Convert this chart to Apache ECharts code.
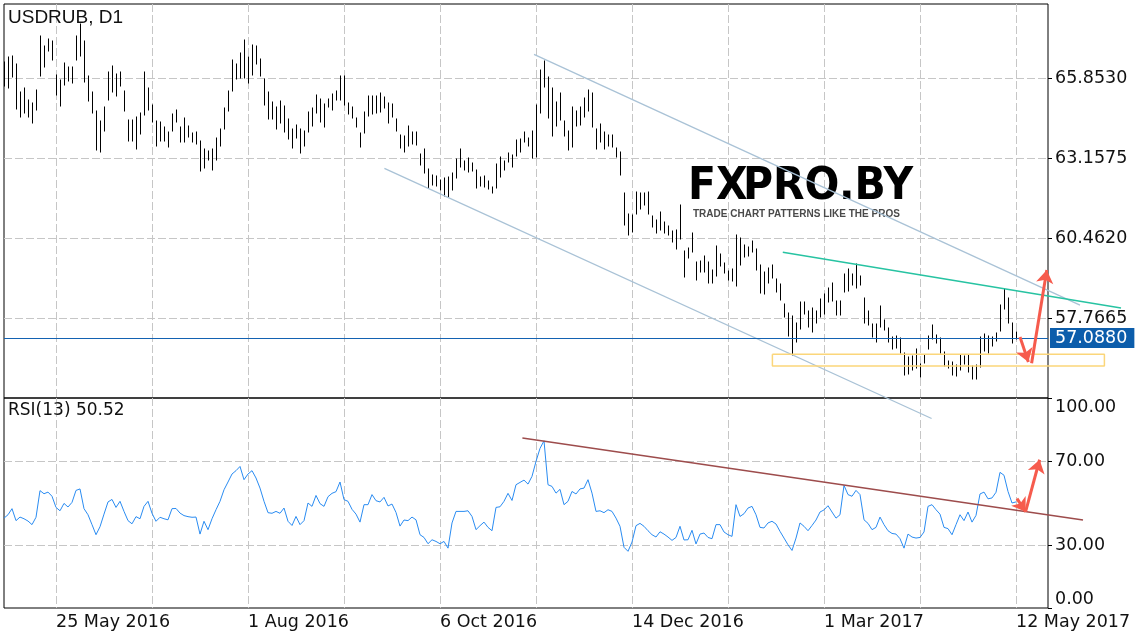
<!DOCTYPE html>
<html>
<head>
<meta charset="utf-8">
<script src="https://cdn.jsdelivr.net/npm/echarts@6/dist/echarts.min.js"></script>
<style>html,body{margin:0;padding:0;background:#fff}#c{width:1136px;height:640px}</style>
</head>
<body>
<div id="c"></div>
<script>
// ---------- calendar (trading days, Moscow exchange holidays skipped) ----------
const firstDay = '2016-05-05';
const slotCount = 262; // 254 daily bars + 8 empty future slots (chart shift)
const holidays = ['2016-05-09','2016-11-04','2017-01-02','2017-01-03','2017-01-04','2017-01-05','2017-01-06',
  '2017-02-23','2017-02-24','2017-03-08','2017-05-01','2017-05-08','2017-05-09'];
const monthNames = ['Jan','Feb','Mar','Apr','May','Jun','Jul','Aug','Sep','Oct','Nov','Dec'];
const categories = [];
(function () {
  const d = new Date(firstDay + 'T00:00:00Z');
  while (categories.length < slotCount) {
    const s = d.toISOString().slice(0, 10), w = d.getUTCDay();
    if (w !== 0 && w !== 6 && holidays.indexOf(s) < 0) categories.push(s);
    d.setUTCDate(d.getUTCDate() + 1);
  }
})();

// ---------- USDRUB D1 bar highs / lows ----------
const barHigh = [
  66.40,66.55,66.58,66.33,65.37,65.52,65.11,65.00,65.45,67.26,
  66.92,67.17,67.11,65.95,65.80,66.36,66.21,66.21,67.26,67.67,
  67.09,65.91,65.37,64.73,64.42,64.89,66.04,66.25,65.99,66.04,
  65.43,64.44,64.44,64.53,64.67,66.04,65.52,64.95,64.39,64.36,
  64.19,64.02,64.64,64.78,64.19,64.51,64.25,64.00,64.02,63.72,
  63.46,63.40,63.46,63.83,64.14,64.83,65.40,66.47,66.33,66.70,
  67.13,66.57,66.98,66.94,66.48,65.82,65.37,65.06,64.89,65.09,
  64.91,64.46,64.13,64.27,64.12,64.08,64.70,64.85,65.28,65.13,
  64.97,65.15,65.30,65.42,65.92,65.92,65.02,64.87,64.52,64.01,
  64.70,65.26,65.25,65.25,65.34,65.22,65.00,64.98,64.47,63.93,
  63.91,64.24,64.02,64.02,63.29,63.45,62.79,62.58,62.56,62.42,
  62.47,62.51,62.64,63.12,63.45,63.07,63.15,62.98,62.75,62.51,
  62.56,62.39,62.17,62.94,63.18,63.06,63.34,63.26,63.76,63.79,
  64.05,63.82,64.07,64.94,66.12,66.43,65.90,65.53,65.06,65.34,
  64.40,64.07,64.89,64.75,64.89,65.17,65.45,65.36,64.13,64.30,
  64.02,63.93,63.93,63.51,63.35,61.99,61.27,61.24,62.02,61.99,
  61.97,62.02,61.21,61.07,61.33,61.01,60.87,60.71,60.73,61.57,
  60.03,60.11,60.62,59.66,59.70,59.87,59.66,59.38,60.19,59.92,
  59.61,59.35,59.41,60.56,60.45,60.23,60.17,60.37,60.08,59.55,
  59.30,59.44,59.55,59.08,58.90,58.23,57.95,57.83,57.59,58.29,
  58.29,58.01,58.09,58.01,58.41,58.56,58.77,58.96,58.35,58.35,
  59.25,59.41,59.24,59.57,59.18,58.43,58.01,57.55,57.55,58.17,
  57.70,57.42,57.14,57.16,57.10,56.60,56.46,56.49,56.71,56.20,
  56.52,57.16,57.53,57.19,57.10,56.63,56.32,56.29,56.18,56.52,
  56.50,56.52,56.15,56.18,57.11,57.23,57.16,57.14,57.27,58.20,
  58.74,58.43,57.59,57.28
];
const barLow = [
  65.60,65.52,65.88,64.81,64.53,64.67,64.55,64.33,64.79,65.93,
  66.21,66.75,66.47,65.29,64.92,65.63,65.76,65.67,66.47,66.58,
  65.71,65.07,64.67,63.44,63.35,64.08,65.12,65.37,65.24,65.60,
  64.73,63.72,63.72,63.46,63.97,64.62,64.79,64.36,63.57,63.74,
  63.72,63.52,64.08,64.36,63.69,63.69,63.85,63.69,63.63,62.71,
  62.82,63.10,62.76,63.10,63.55,64.14,64.75,65.43,65.82,65.85,
  65.85,65.69,65.97,66.33,65.92,64.94,64.46,64.46,64.12,64.33,
  64.05,63.79,63.51,63.82,63.34,63.56,64.05,64.25,64.66,64.38,
  64.21,64.89,64.78,65.11,65.11,64.94,64.64,64.49,64.21,63.54,
  63.99,64.58,64.64,64.69,64.72,64.83,64.35,64.55,64.08,63.48,
  63.35,63.56,63.63,63.60,62.92,62.64,62.14,62.25,62.21,62.08,
  61.89,61.83,62.08,62.47,62.84,62.75,62.70,62.73,62.16,62.23,
  62.19,62.11,61.97,62.16,62.53,62.75,63.03,62.87,63.23,63.37,
  63.71,63.56,63.17,63.20,64.69,65.56,64.49,63.90,64.24,64.44,
  63.90,63.43,63.54,64.24,64.27,64.55,64.75,64.21,63.46,63.71,
  63.46,63.57,63.54,63.20,62.58,60.90,60.56,60.68,61.27,61.43,
  61.57,61.27,60.84,60.64,60.73,60.62,60.56,60.34,60.08,60.42,
  59.16,59.78,60.00,59.05,59.33,59.33,58.93,58.96,59.18,59.52,
  59.27,59.05,59.02,58.86,59.55,59.81,59.86,60.00,59.38,58.62,
  58.56,58.96,59.10,58.65,58.37,57.81,57.17,56.52,56.95,57.40,
  57.90,57.45,57.28,57.61,57.79,57.90,58.29,58.35,57.87,57.87,
  58.65,58.68,58.88,58.77,58.88,57.59,57.53,57.11,56.97,57.45,
  57.36,56.95,56.71,56.74,56.58,55.85,55.87,56.01,56.09,55.77,
  56.26,56.71,57.05,56.91,56.60,56.15,56.07,55.85,55.81,56.01,
  56.22,55.96,55.71,55.70,56.13,56.65,56.58,56.82,57.00,57.34,
  58.06,57.61,56.93,57.05
];
const currentPrice = 57.0880;

// ---------- RSI(13) ----------
const rsiValues = [
  42.8,44.4,47.3,41.6,43.3,42.5,41.4,39.7,43.2,55.9,
  54.4,55.2,53.2,47.9,46.3,49.8,48.1,50.3,56.0,56.7,
  47.3,44.4,39.7,34.9,38.7,44.7,50.5,51.7,47.9,50.8,
  46.0,41.6,40.1,43.5,42.5,48.4,50.8,45.1,41.3,43.2,
  42.5,42.0,47.3,47.4,45.2,44.0,43.5,43.2,43.3,35.2,
  41.3,37.3,42.5,46.8,50.8,56.3,60.0,63.8,65.4,67.4,
  61.1,63.8,65.4,61.9,57.1,50.8,45.4,45.1,46.0,45.1,
  47.6,41.3,39.3,43.6,39.7,41.6,50.0,48.4,53.6,49.7,
  48.4,53.0,54.6,55.4,60.0,51.6,50.8,47.0,44.7,40.9,
  49.2,49.2,54.0,51.1,50.5,52.7,48.6,49.5,45.5,39.0,
  41.9,41.6,43.3,42.0,34.9,33.6,30.6,32.5,31.7,30.6,
  31.7,28.5,40.5,46.0,46.0,46.0,46.3,43.6,37.3,39.2,
  40.9,38.4,36.8,47.9,48.2,50.8,54.6,51.2,58.7,59.8,
  60.9,59.0,62.7,69.8,76.0,79.6,58.7,57.9,54.7,56.5,
  49.2,50.8,55.5,54.3,56.7,57.1,61.1,54.7,46.0,46.3,
  45.4,46.8,46.0,42.8,38.9,28.9,27.0,31.4,39.2,40.3,
  38.9,36.8,34.9,33.8,36.3,35.2,33.8,32.2,33.6,38.9,
  32.4,32.5,37.0,30.5,35.2,35.7,33.6,33.0,39.7,39.7,
  36.2,34.9,34.1,49.2,43.6,44.9,47.6,48.4,44.4,38.4,
  38.1,40.5,41.3,40.0,36.5,33.3,30.1,27.4,33.3,40.5,
  38.9,36.8,39.3,41.9,45.7,46.7,48.7,45.7,42.8,44.4,
  58.4,54.0,53.2,56.0,54.0,42.0,40.3,37.3,38.4,43.3,
  39.7,36.8,35.5,35.2,33.0,28.5,35.2,33.8,33.3,33.6,
  36.2,48.4,49.2,46.8,44.7,38.4,37.8,34.9,39.7,44.4,
  41.6,45.7,40.9,44.1,54.3,55.2,52.0,52.4,55.1,64.6,
  63.2,55.5,50.0,50.52
];

// ---------- axis ticks ----------
const priceTicks = [57.7665, 60.4620, 63.1575, 65.8530];
const priceMin = 55.0699, priceMax = 68.3466;
const rsiTicks = [0, 30, 70, 100];
const gridStep = 24, labelStep = 48, firstGridIndex = 13;
const overlaySlots = 283; // annotation layer reaches the right edge of the picture

// ---------- drawn annotations: [bar index, value] ----------
const upperChannel = [[132.5, 66.652], [269, 58.197]];
const lowerChannel = [[95.1, 62.810], [231.9, 54.379]];
const resistanceLine = [[194.7, 59.980], [279.25, 58.103]];
const supportBox = [[192.1, 56.542], [275.1, 56.542], [275.1, 56.148], [192.1, 56.148], [192.1, 56.542]];
const priceArrowDown = [[254, 57.125], [256.1, 56.283]];
const priceArrowUp = [[256.9, 56.239], [260.7, 59.383]];
const rsiTrendLine = [[129.6, 80.95], [269.75, 41.9]];
const rsiArrowDown = [[253.25, 52.05], [255.4, 45.86]];
const rsiArrowUp = [[255.4, 45.86], [258.9, 70.6]];

// ---------- chart ----------
const chart = echarts.init(document.getElementById('c'), null, { renderer: 'canvas' });
const axisFont = 'DejaVu Sans';
const dash = { color: '#c6c6c6', width: 1, type: [8, 3] };
const fmtDate = v => { const p = v.split('-'); return (+p[2]) + ' ' + monthNames[+p[1] - 1] + ' ' + p[0]; };
const arrowMark = a => [{ coord: a[0] }, { coord: a[1] }];

const barData = barHigh.map((h, i) => [i, barLow[i], h]);

const arrowStyle = { symbol: ['none', 'arrow'], symbolSize: 13, silent: true, animation: false,
  lineStyle: { color: '#f65b4d', width: 3, type: 'solid' }, label: { show: false } };

const option = {
  animation: false,
  backgroundColor: '#fff',
  title: [
    { text: 'USDRUB, D1', left: 8, top: 8, padding: 0,
      textStyle: { fontFamily: 'Liberation Sans', fontSize: 19, fontWeight: 'normal', color: '#111' } },
    { text: 'RSI(13) 50.52', left: 8, top: 402, padding: 0,
      textStyle: { fontFamily: axisFont, fontSize: 17, fontWeight: 'normal', color: '#111' } }
  ],
  grid: [
    { left: 4, top: 4, width: 1044, height: 394, show: true, borderColor: '#000', borderWidth: 1, backgroundColor: 'transparent' },
    { left: 4, top: 398, width: 1044, height: 210, show: true, borderColor: '#000', borderWidth: 1, backgroundColor: 'transparent' },
    { left: 4, top: 4, width: 1132, height: 394, show: false },
    { left: 4, top: 398, width: 1132, height: 210, show: false }
  ],
  xAxis: [
    { type: 'category', gridIndex: 0, data: categories, boundaryGap: false,
      axisLine: { show: false }, axisTick: { show: false }, axisLabel: { show: false },
      splitLine: { show: true, interval: i => i >= firstGridIndex && (i - firstGridIndex) % gridStep === 0, lineStyle: dash } },
    { type: 'category', gridIndex: 1, data: categories, boundaryGap: false,
      axisLine: { show: false }, axisTick: { show: false },
      axisLabel: { show: true, interval: i => i >= firstGridIndex && (i - firstGridIndex) % labelStep === 0,
        formatter: fmtDate, align: 'left', margin: 5, color: '#111', fontFamily: axisFont, fontSize: 17.5 },
      splitLine: { show: true, interval: i => i >= firstGridIndex && (i - firstGridIndex) % gridStep === 0, lineStyle: dash } },
    { type: 'value', gridIndex: 2, min: 0, max: overlaySlots, show: false },
    { type: 'value', gridIndex: 3, min: 0, max: overlaySlots, show: false }
  ],
  yAxis: [
    { type: 'value', gridIndex: 0, position: 'right', min: priceMin, max: priceMax, scale: true,
      axisLine: { show: false },
      axisTick: { show: true, customValues: priceTicks, length: 4, lineStyle: { color: '#000' } },
      axisLabel: { customValues: priceTicks, formatter: v => v.toFixed(4), margin: 7, color: '#111', fontFamily: axisFont, fontSize: 17.5 },
      splitLine: { show: true, lineStyle: dash } },
    { type: 'value', gridIndex: 1, position: 'right', min: 0, max: 100,
      axisLine: { show: false },
      axisTick: { show: true, customValues: rsiTicks, length: 4, lineStyle: { color: '#000' } },
      axisLabel: { customValues: rsiTicks, formatter: v => v.toFixed(2), margin: 7, color: '#111', fontFamily: axisFont, fontSize: 17.5,
        verticalAlignMinLabel: 'bottom', verticalAlignMaxLabel: 'top' },
      splitLine: { show: true, showMinLine: false, showMaxLine: false, lineStyle: dash } },
    { type: 'value', gridIndex: 2, min: priceMin, max: priceMax, scale: true, show: false },
    { type: 'value', gridIndex: 3, min: 0, max: 100, show: false }
  ],
  series: [
    { type: 'custom', name: 'USDRUB', xAxisIndex: 0, yAxisIndex: 0, data: barData,
      encode: { x: 0, y: [1, 2] }, silent: true, z: 3,
      renderItem: function (params, api) {
        const i = api.value(0);
        const lo = api.coord([i, api.value(1)]);
        const hi = api.coord([i, api.value(2)]);
        const x = Math.round(lo[0]) + 0.5;
        return { type: 'line', shape: { x1: x, y1: Math.round(lo[1]) + 0.5, x2: x, y2: Math.round(hi[1]) - 0.5 },
          style: { stroke: '#000', lineWidth: 1 } };
      },
      markLine: { silent: true, symbol: 'none', animation: false,
        data: [{ yAxis: currentPrice,
          lineStyle: { color: '#1362b2', width: 1, type: 'solid' },
          label: { show: true, position: 'end', distance: 2, formatter: currentPrice.toFixed(4),
            backgroundColor: '#0c5dab', color: '#fff', padding: [1, 7, 1, 5], lineHeight: 18,
            fontFamily: axisFont, fontSize: 17.5 } }] } },
    { type: 'line', name: 'RSI', xAxisIndex: 1, yAxisIndex: 1, data: rsiValues, symbol: 'none', silent: true, z: 3,
      lineStyle: { color: '#2a8cf2', width: 1 } },
    { type: 'line', name: 'upper channel', xAxisIndex: 2, yAxisIndex: 2, data: upperChannel, symbol: 'none', clip: false,
      silent: true, z: 4, lineStyle: { color: '#a9c2d6', width: 1.3 } },
    { type: 'line', name: 'lower channel', xAxisIndex: 2, yAxisIndex: 2, data: lowerChannel, symbol: 'none', clip: false,
      silent: true, z: 4, lineStyle: { color: '#a9c2d6', width: 1.3 } },
    { type: 'line', name: 'resistance', xAxisIndex: 2, yAxisIndex: 2, data: resistanceLine, symbol: 'none', clip: false,
      silent: true, z: 4, lineStyle: { color: '#27c3a2', width: 1.5 } },
    { type: 'line', name: 'support zone', xAxisIndex: 2, yAxisIndex: 2, data: supportBox, symbol: 'none', clip: false,
      silent: true, z: 4, lineStyle: { color: '#fbd67a', width: 1.5 },
      markLine: Object.assign({ data: [arrowMark(priceArrowDown), arrowMark(priceArrowUp)] }, arrowStyle) },
    { type: 'line', name: 'RSI trend', xAxisIndex: 3, yAxisIndex: 3, data: rsiTrendLine, symbol: 'none', clip: false,
      silent: true, z: 4, lineStyle: { color: '#9d4c4c', width: 1.5 },
      markLine: Object.assign({ data: [arrowMark(rsiArrowDown), arrowMark(rsiArrowUp)] }, arrowStyle) }
  ],
  graphic: [
    { type: 'group', x: 688, y: 165, silent: true, z: 1, children: [
      { type: 'text', x: 0, y: 0, z: 1, scaleY: 1.08, style: { text: 'FX', font: 'bold 41px "DejaVu Sans"', verticalAlign: 'top',
        fill: new echarts.graphic.LinearGradient(0, 0, 0, 1, [{ offset: 0, color: '#111' }, { offset: 0.5, color: '#2b2b2b' }, { offset: 1, color: '#a0a0a0' }]) } },
      { type: 'text', x: 55, y: 0, z: 1, scaleY: 1.08, style: { text: 'PRO', font: 'bold 41px "DejaVu Sans"', verticalAlign: 'top',
        fill: new echarts.graphic.LinearGradient(0, 0, 0, 1, [{ offset: 0, color: '#e0161b' }, { offset: 0.55, color: '#ee3b35' }, { offset: 1, color: '#f8b9ad' }]) } },
      { type: 'text', x: 151, y: 0, z: 1, scaleY: 1.08, style: { text: '.BY', font: 'bold 41px "DejaVu Sans"', verticalAlign: 'top',
        fill: new echarts.graphic.LinearGradient(0, 0, 0, 1, [{ offset: 0, color: '#111' }, { offset: 0.55, color: '#2a2a2a' }, { offset: 1, color: '#888' }]) } },
      { type: 'text', x: 5, y: 44, z: 1, style: { text: 'TRADE CHART PATTERNS LIKE THE PROS', font: 'bold 10px "Liberation Sans"', fill: '#4a4a4a', verticalAlign: 'top' } }
    ] }
  ]
};
chart.setOption(option);
</script>
</body>
</html>
